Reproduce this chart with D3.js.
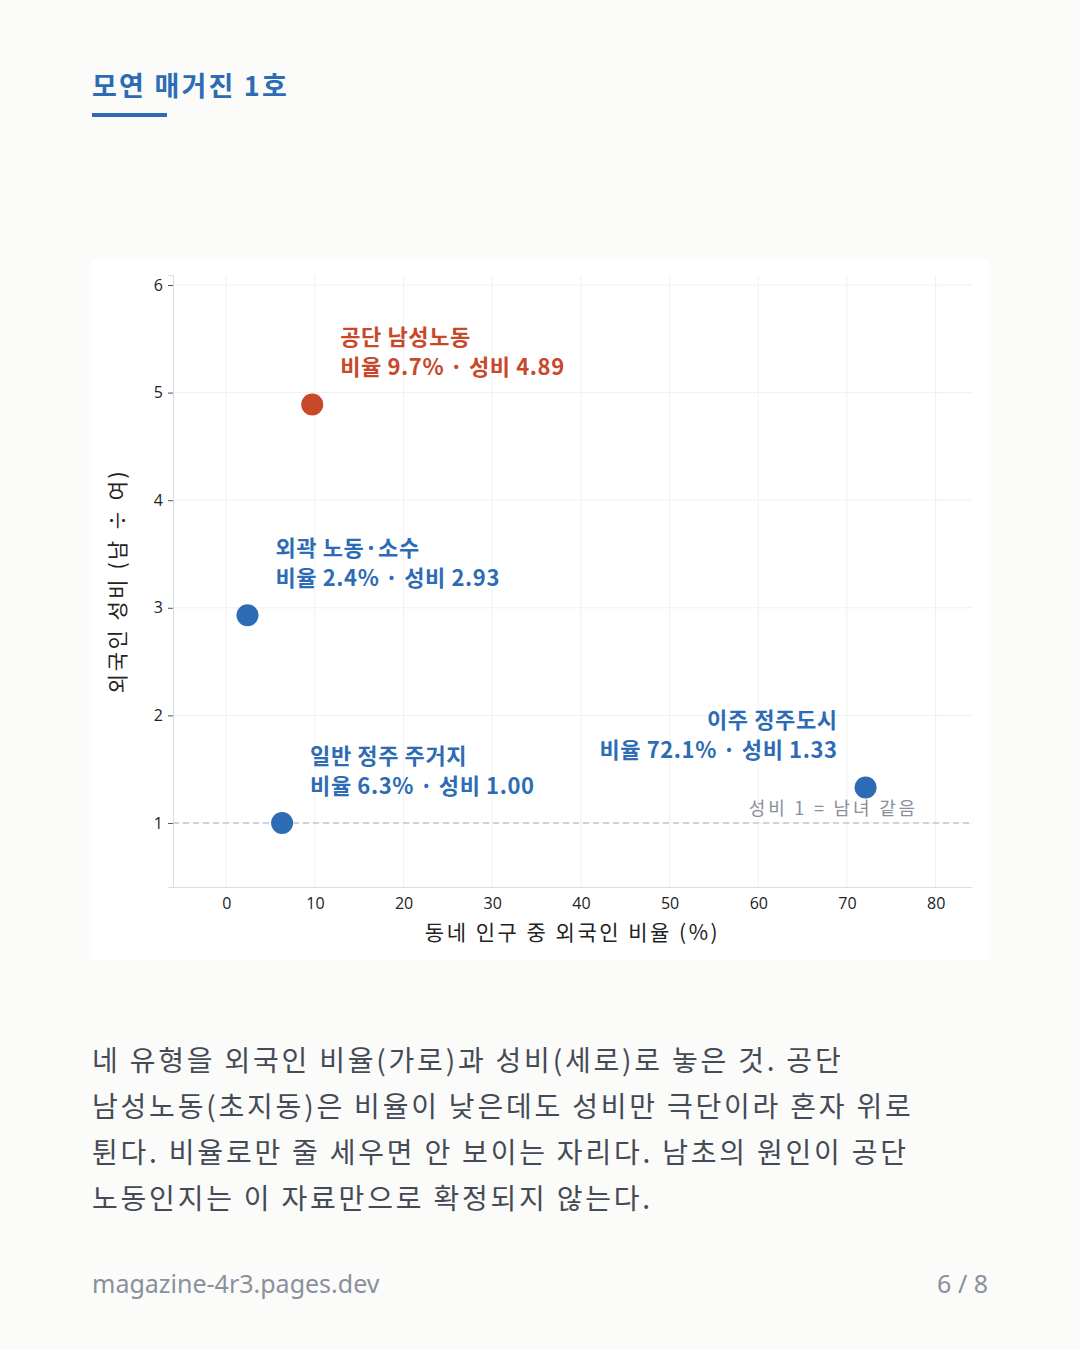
<!DOCTYPE html>
<html>
<head>
<meta charset="utf-8">
<script src="https://cdn.jsdelivr.net/npm/d3@7"></script>
<style>
  html, body { margin: 0; padding: 0; background: #fbfbf9; }
  body { width: 1080px; height: 1350px; overflow: hidden; font-family: "Noto Sans CJK KR", "Noto Sans", sans-serif; }
</style>
</head>
<body>
<div id="chart"></div>
<script>
// Four neighbourhood types
const names = ["공단 남성노동", "외곽 노동·소수", "일반 정주 주거지", "이주 정주도시"]
const foreignShare = [9.7, 2.4, 6.3, 72.1]   // %
const sexRatio = [4.89, 2.93, 1.00, 1.33]     // men / women
const highlight = [true, false, false, false]
const xTicks = [0, 10, 20, 30, 40, 50, 60, 70, 80]
const yTicks = [1, 2, 3, 4, 5, 6]

const bodyLines = [
    "네 유형을 외국인 비율(가로)과 성비(세로)로 놓은 것. 공단",
    "남성노동(초지동)은 비율이 낮은데도 성비만 극단이라 혼자 위로",
    "튄다. 비율로만 줄 세우면 안 보이는 자리다. 남초의 원인이 공단",
    "노동인지는 이 자료만으로 확정되지 않는다."
]

const blue = "#2d6cb5", red = "#c8482a"

const svg = d3.select("#chart").append("svg")
    .attr("width", 1080)
    .attr("height", 1350)

// header
svg.append("text")
    .attr("x", 92).attr("y", 96)
    .attr("fill", blue)
    .attr("font-size", 27).attr("font-weight", 700)
    .attr("letter-spacing", 2.2)
    .text("모연 매거진 1호")
svg.append("rect")
    .attr("x", 92).attr("y", 113).attr("width", 75).attr("height", 4)
    .attr("fill", blue)

// card
svg.append("rect")
    .attr("x", 92).attr("y", 260).attr("width", 896).attr("height", 700)
    .attr("fill", "#ffffff")

const plotL = 173, plotR = 972, plotT = 275, plotB = 887

const x = d3.scaleLinear().domain([-6, 84.1]).range([plotL, plotR])
const y = d3.scaleLinear().domain([0.405, 6.093]).range([plotB, plotT])

// grid
svg.append("g").selectAll("line").data(xTicks).join("line")
    .attr("x1", d => x(d)).attr("x2", d => x(d))
    .attr("y1", plotT).attr("y2", plotB)
    .attr("stroke", "#eef0f3").attr("stroke-width", 1)
svg.append("g").selectAll("line").data(yTicks).join("line")
    .attr("x1", plotL).attr("x2", plotR)
    .attr("y1", d => y(d)).attr("y2", d => y(d))
    .attr("stroke", "#eef0f3").attr("stroke-width", 1)

// axes
const xAxis = svg.append("g")
    .attr("transform", `translate(0,${plotB})`)
    .call(d3.axisBottom(x).tickValues(xTicks).tickSize(0).tickPadding(11))
const yAxis = svg.append("g")
    .attr("transform", `translate(${plotL},0)`)
    .call(d3.axisLeft(y).tickValues(yTicks).tickFormat(d3.format("d")).tickSize(5).tickPadding(5))
xAxis.select(".domain").attr("stroke", "#d9dde6")
yAxis.select(".domain").attr("stroke", "#d9dde6")
yAxis.selectAll(".tick line").attr("stroke", "#555")
for (const ax of [xAxis, yAxis]) {
    ax.selectAll(".tick text")
        .attr("font-family", "'Open Sans', 'Noto Sans', sans-serif")
        .attr("font-size", 16).attr("fill", "#222")
}

// axis titles
svg.append("text")
    .attr("x", (plotL + plotR) / 2).attr("y", 940)
    .attr("text-anchor", "middle")
    .attr("font-size", 21).attr("fill", "#222")
    .attr("letter-spacing", 2.5)
    .text("동네 인구 중 외국인 비율 (%)")
svg.append("text")
    .attr("transform", `translate(125,${(plotT + plotB) / 2}) rotate(-90)`)
    .attr("text-anchor", "middle")
    .attr("font-size", 21).attr("fill", "#222")
    .attr("letter-spacing", 2.5)
    .text("외국인 성비 (남 ÷ 여)")

// reference line at ratio 1
svg.append("line")
    .attr("x1", plotL).attr("x2", plotR)
    .attr("y1", y(1)).attr("y2", y(1))
    .attr("stroke", "#c4c8d2").attr("stroke-width", 1.3)
    .attr("stroke-dasharray", "6,4")
svg.append("text")
    .attr("x", x(78)).attr("y", y(1) - 8)
    .attr("text-anchor", "end")
    .attr("font-size", 18).attr("fill", "#8a8f99")
    .attr("letter-spacing", 2.8)
    .text("성비 1 = 남녀 같음")

// points
const pts = names.map((n, i) => ({name: n, fx: foreignShare[i], sr: sexRatio[i], hi: highlight[i]}))

svg.append("g").selectAll("circle").data(pts).join("circle")
    .attr("cx", d => x(d.fx))
    .attr("cy", d => y(d.sr))
    .attr("r", 11)
    .attr("fill", d => d.hi ? red : blue)

// labels
const lab = svg.append("g").selectAll("text").data(pts).join("text")
    .attr("text-anchor", d => d.fx > 50 ? "end" : "start")
    .attr("fill", d => d.hi ? red : blue)
    .attr("font-size", 22).attr("font-weight", 700)
    .attr("letter-spacing", 0.6)
lab.append("tspan")
    .attr("x", d => x(d.fx) + (d.fx > 50 ? -28 : 28))
    .attr("y", d => y(d.sr) - 59)
    .text(d => d.name)
lab.append("tspan")
    .attr("x", d => x(d.fx) + (d.fx > 50 ? -28 : 28))
    .attr("y", d => y(d.sr) - 29)
    .text(d => `비율 ${d.fx.toFixed(1)}% · 성비 ${d.sr.toFixed(2)}`)

// body copy
svg.append("g").selectAll("text").data(bodyLines).join("text")
    .attr("x", 92)
    .attr("y", (d, i) => 1071 + i * 46)
    .attr("font-size", 28).attr("fill", "#454b56")
    .attr("letter-spacing", 2.8)
    .text(d => d)

// footer
svg.append("text")
    .attr("x", 92).attr("y", 1293)
    .attr("font-size", 25).attr("fill", "#8a909c")
    .attr("font-family", "'Noto Sans', sans-serif")
    .text("magazine-4r3.pages.dev")
svg.append("text")
    .attr("x", 988).attr("y", 1293)
    .attr("text-anchor", "end")
    .attr("font-size", 25).attr("fill", "#8a909c")
    .attr("font-family", "'Noto Sans', sans-serif")
    .text("6 / 8")
</script>
</body>
</html>
